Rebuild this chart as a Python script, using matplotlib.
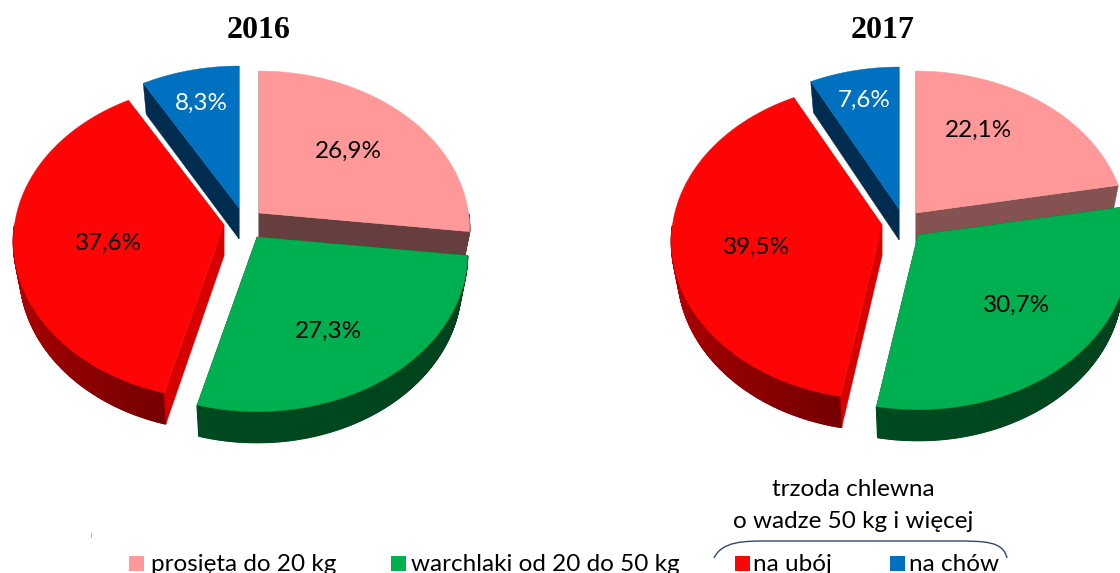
import numpy as np
import matplotlib
matplotlib.use("Agg")
import matplotlib.pyplot as plt
from matplotlib.colors import to_rgb
from matplotlib.patches import PathPatch, Rectangle
from matplotlib.path import Path

years = ["2016", "2017"]
names = ["prosięta do 20 kg", "warchlaki od 20 do 50 kg", "na ubój", "na chów"]
values_2016 = [26.9, 27.3, 37.6, 8.3]
values_2017 = [22.1, 30.7, 39.5, 7.6]
labels_2016 = ["26,9%", "27,3%", "37,6%", "8,3%"]
labels_2017 = ["22,1%", "30,7%", "39,5%", "7,6%"]

top_colors = ["#FF9999", "#00B050", "#FF0404", "#0070C0"]
rim_from = ["#663E3E", "#00401A", "#750000", "#002C50"]
rim_to = ["#663E3E", "#004A20", "#C00000", "#002C50"]
wall_colors_2016 = ["#663E3E", "#004A20", "#D60000", "#002C50"]
wall_colors_2017 = ["#855252", "#004A20", "#D60000", "#002C50"]

# slice apex positions in the picture (pink, green, red, blue)
apex_2016 = [(259, 213), (257, 237), (224, 225), (239, 208)]
apex_2017 = [(916, 213), (918, 235), (882, 225), (899, 209)]
label_pos_2016 = [(348, 151), (328, 331), (108, 243), (201, 103)]
label_pos_2017 = [(978, 130), (1016, 305), (756, 247), (864, 100)]

# tilted disc: rear of the pie is smaller than the front
rx = 209.5
ry = 156.6
persp = 0.103
depth = 31.0
shrink = 0.97  # lower rim sits further away, so it is a bit narrower

LATO = ["Lato", "DejaVu Sans"]
FS = 17.5


def project(theta, apex):
    x = np.sin(theta)
    y = np.cos(theta)
    w = 1 + persp * y
    return apex[0] + rx * x / w, apex[1] - ry * y / w


def draw_slice(ax, t1, t2, apex, top, wall, c_from, c_to):
    th = np.linspace(t1, t2, 400)
    px, py = project(th, apex)
    qx = apex[0] + (px - apex[0]) * shrink
    qy = py + depth

    # outer rim, only the part turned to the viewer
    a = np.array(to_rgb(c_from))
    b = np.array(to_rgb(c_to))
    front = np.where(np.cos(th) < 0)[0]
    for n, i in enumerate(front[:-1]):
        f = n / max(len(front) - 2, 1)
        col = tuple(a + (b - a) * f)
        ax.fill([px[i], px[i + 1], qx[i + 1], qx[i]],
                [py[i], py[i + 1], qy[i + 1], qy[i]],
                color=col, lw=1.0, zorder=1)

    # both cut faces
    for j in [0, -1]:
        ax.fill([apex[0], px[j], qx[j], apex[0]],
                [apex[1], py[j], qy[j], apex[1] + depth],
                color=wall, lw=0.3, zorder=1)

    ax.fill(np.r_[apex[0], px], np.r_[apex[1], py], color=top, lw=0.3, zorder=1)


def draw_pie(ax, values, apexes, walls):
    vals = np.array(values, dtype=float)
    edges = np.r_[0, np.cumsum(vals)] / vals.sum() * 2 * np.pi
    # painter's order: pink, blue, red, green
    for i in [0, 3, 2, 1]:
        draw_slice(ax, edges[i], edges[i + 1], apexes[i], top_colors[i],
                   walls[i], rim_from[i], rim_to[i])


fig = plt.figure(figsize=(11.2, 5.73), dpi=100)
ax = fig.add_axes([0, 0, 1, 1])
ax.set_xlim(0, 1120)
ax.set_ylim(573, 0)
ax.axis("off")

draw_pie(ax, values_2016, apex_2016, wall_colors_2016)
draw_pie(ax, values_2017, apex_2017, wall_colors_2017)

for labels, pos in [(labels_2016, label_pos_2016), (labels_2017, label_pos_2017)]:
    for i, txt in enumerate(labels):
        col = "white" if i == 3 else "black"
        ax.text(pos[i][0], pos[i][1], txt, ha="center", va="center", fontsize=FS,
                color=col, family=LATO, zorder=3)

for year, xc in zip(years, [259, 883]):
    ax.text(xc, 31, year, ha="center", va="center", fontsize=23, fontweight="bold",
            family="Liberation Serif", color="black")

# legend along the bottom, its text is cut by the lower edge
box_x = [129, 391, 735, 890]
text_x = [151, 411, 753, 909]
for i, name in enumerate(names):
    ax.add_patch(Rectangle((box_x[i], 556), 15, 15, color=top_colors[i], lw=0))
    ax.text(text_x[i], 571, name, ha="left", va="baseline", fontsize=FS,
            family=LATO, color="black", clip_on=True)

ax.text(853, 490, "trzoda chlewna", ha="center", va="center", fontsize=FS, family=LATO)
ax.text(853, 522, "o wadze 50 kg i więcej", ha="center", va="center", fontsize=FS, family=LATO)

arc = Path([(714, 558), (722, 541), (745, 541), (767, 541), (953, 541),
            (985, 541), (1003, 541), (1007, 558)],
           [Path.MOVETO, Path.CURVE4, Path.CURVE4, Path.CURVE4, Path.LINETO,
            Path.CURVE4, Path.CURVE4, Path.CURVE4])
ax.add_patch(PathPatch(arc, fill=False, edgecolor="#2F4A6A", lw=1.0))
ax.plot([91, 91], [533, 537], color="#B0B0B0", lw=0.7)

fig.savefig("out.png", dpi=100)
